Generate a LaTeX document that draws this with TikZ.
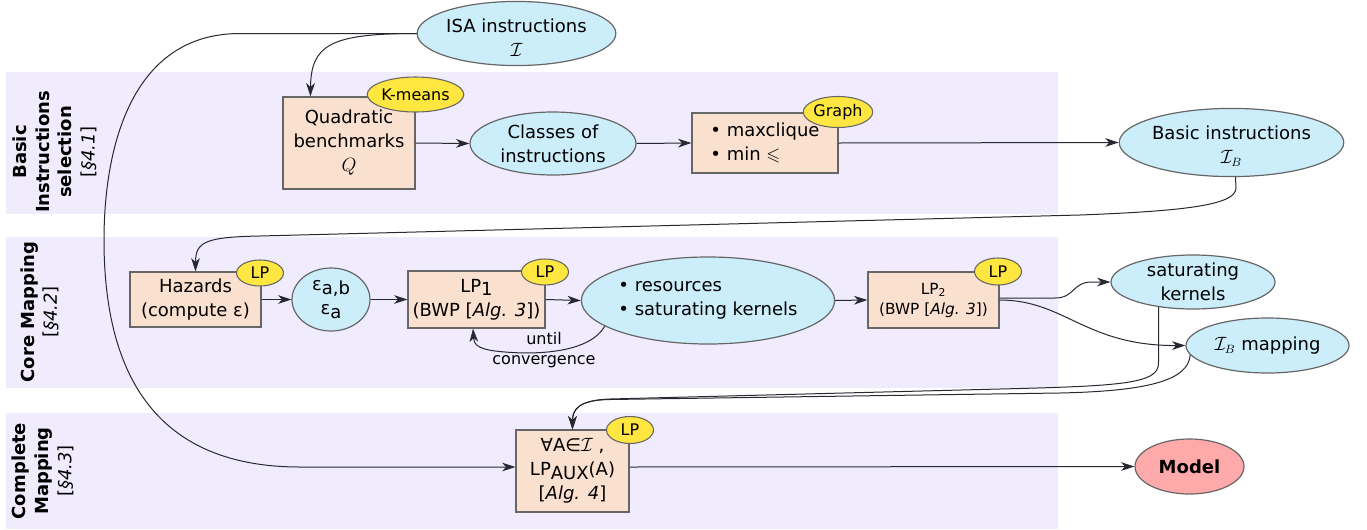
\documentclass[tikz,border=0pt]{standalone}
\usepackage{fontspec}
\setmainfont{DejaVu Sans}
\usepackage{amssymb}
\usetikzlibrary{shapes.geometric,arrows.meta}
\definecolor{bandcol}{RGB}{240,236,253}
\definecolor{bluefill}{RGB}{204,238,251}
\definecolor{peach}{RGB}{249,224,207}
\definecolor{tagyellow}{RGB}{255,230,64}
\definecolor{modelred}{RGB}{255,170,170}
\definecolor{edgegray}{RGB}{102,102,102}
\definecolor{wire}{RGB}{40,40,48}
\newcommand\lowr[1]{\raisebox{-0.35ex}{#1}}
\newcommand\topstrut{\rule{0pt}{16pt}}

\begin{document}
\begin{tikzpicture}[x=0.75pt,y=-0.75pt,
  every node/.style={font=\fontsize{13.5}{18}\selectfont, text=black},
  wh/.style 2 args={minimum width=#1*0.75pt, minimum height=#2*0.75pt},
  boxnode/.style={rectangle, draw=edgegray, line width=0.9pt, fill=peach, inner sep=0pt, align=center},
  bluenode/.style={ellipse, draw=edgegray, line width=0.9pt, fill=bluefill, inner sep=0pt, align=center},
  tagnode/.style={ellipse, draw=edgegray, line width=0.8pt, fill=tagyellow, inner sep=0pt, font=\fontsize{12}{14}\selectfont},
  conn/.style={draw=wire, line width=0.75pt, -{Stealth[length=10pt,width=6.5pt,inset=3pt]}},
  bandlabel/.style={rotate=90, align=center, font=\fontsize{13.5}{17}\selectfont}
]
\useasboundingbox (0,0) rectangle (1367,529);

% section bands
\fill[bandcol] (6,72) rectangle (1058,214);
\fill[bandcol] (6,237) rectangle (1058,388);
\fill[bandcol] (6,413) rectangle (1058,529);

% band titles
\node[bandlabel] (lblA) at (55,152) {\textbf{Basic}\\\textbf{Instructions}\\\textbf{selection}\\{[}\textit{§4.1}{]}};
\node[bandlabel] (lblB) at (40,312) {\textbf{Core Mapping}\\{[}\textit{§4.2}{]}};
\node[bandlabel] (lblC) at (43,471) {\textbf{Complete}\\\textbf{Mapping}\\{[}\textit{§4.3}{]}};

% nodes
\node[bluenode, wh={193}{63}] (isa) at (516.5,33.5) {\topstrut ISA instructions\\$\mathcal{I}$};
\node[boxnode, wh={132}{92}] (quad) at (349,143) {Quadratic\\benchmarks\\$Q$};
\node[bluenode, wh={166}{63}] (classes) at (553,143.5) {Classes of\\instructions};
\node[boxnode, wh={146}{60}, align=left] (clique) at (765,143) {• maxclique\\• min $\leqslant$};
\node[bluenode, wh={193}{63}] (basic) at (1231.5,142.5) {\topstrut Basic instructions\\$\mathcal{I}_B$};

\node[boxnode, wh={131}{55}] (haz) at (195.5,299.5) {Hazards\\(compute ε)};
\node[bluenode, wh={78}{63}] (eps) at (331,299.5) {ε\lowr{a,b}\\ε\lowr{a}};
\node[boxnode, wh={137}{57}] (lp1) at (476.5,299.5) {LP\lowr{1}\\(BWP {[}\textit{Alg. 3}{]})};
\node[bluenode, wh={230}{87}, align=left] (res) at (708,300.5) {• resources\\• saturating kernels};
\node[boxnode, wh={131}{56}, font=\fontsize{11.5}{15}\selectfont] (lp2) at (933.5,300) {LP\textsubscript{2}\\(BWP {[}\textit{Alg. 3}{]})};
\node[bluenode, wh={164}{54}] (sat) at (1193,282) {saturating\\kernels};
\node[bluenode, wh={163}{55}] (ibmap) at (1267.5,345.5) {$\mathcal{I}_B$ mapping};

\node[boxnode, wh={113}{82}] (aux) at (572.5,471) {∀A∈$\mathcal{I}$ ,\\LP\lowr{AUX}(A)\\{[}\textit{Alg. 4}{]}};
\node[ellipse, draw=edgegray, line width=0.9pt, fill=modelred, inner sep=0pt, wh={109}{55}, font=\bfseries\fontsize{13.5}{18}\selectfont] (model) at (1189.5,466.5) {Model};

% method tags
\node[tagnode, wh={85}{35}] (tagkm) at (415.5,94.5) {K-means};
\node[tagnode, wh={60}{31}] (taggr) at (838,112) {Graph};
\node[tagnode, wh={47}{26}] (taghz) at (260,273) {LP};
\node[tagnode, wh={47}{26}] (taglpa) at (545,272) {LP};
\node[tagnode, wh={47}{27}] (taglpb) at (998,271.5) {LP};
\node[tagnode, wh={47}{27}] (tagaux) at (630,430) {LP};

% loop label
\node[font=\fontsize{12}{14.5}\selectfont, align=center] (conv) at (544,350) {until\\convergence};

% connectors
\draw[conn] (isa.west) .. controls (330,33.5) and (311,45) .. ([xshift=21pt]quad.north west);
\draw[conn] (isa.west) -- (240,33.5) .. controls (130,33.5) and (104,150) .. (104,240)
  .. controls (104,380) and (160,467) .. (300,467) -- ([yshift=3pt]aux.west);
\draw[conn] (quad.east) -- (classes.west);
\draw[conn] (classes.east) -- (clique.west);
\draw[conn] (clique.east) -- (basic.west);
\draw[conn] ([xshift=3pt]basic.south) -- (1236,188) .. controls (1236,205) and (1185,211) .. (1080,215)
  -- (260,236) .. controls (205,237) and (195.5,242) .. (haz.north);
\draw[conn] (haz.east) -- (eps.west);
\draw[conn] (eps.east) -- (lp1.west);
\draw[conn] (lp1.east) -- (res.west);
\draw[conn] (res.194) .. controls (590,352) and (540,355) .. (505,352)
  .. controls (478,350) and (474,345) .. ([xshift=-2.6pt]lp1.south);
\draw[conn] (res.east) -- (lp2.west);
\draw[conn] ([yshift=1.5pt]lp2.east) -- (1055,298) .. controls (1075,298) and (1072,282) .. (1092,282) -- (sat.west);
\draw[conn] (lp2.east) .. controls (1065,300) and (1085,346) .. (ibmap.west);
\draw[conn] (sat.216) -- ++(0,56) .. controls (1159,384) and (1120,386) .. (1000,389)
  -- (610,399) .. controls (578,400) and (572.5,410) .. (aux.north);
\draw[conn] (ibmap.187) .. controls (1188,380) and (1150,391) .. (1060,393)
  -- (610,399.5) .. controls (578,400) and (572.5,410) .. (aux.north);
\draw[conn] ([yshift=3pt]aux.east) -- (model.west);
\end{tikzpicture}
\end{document}
